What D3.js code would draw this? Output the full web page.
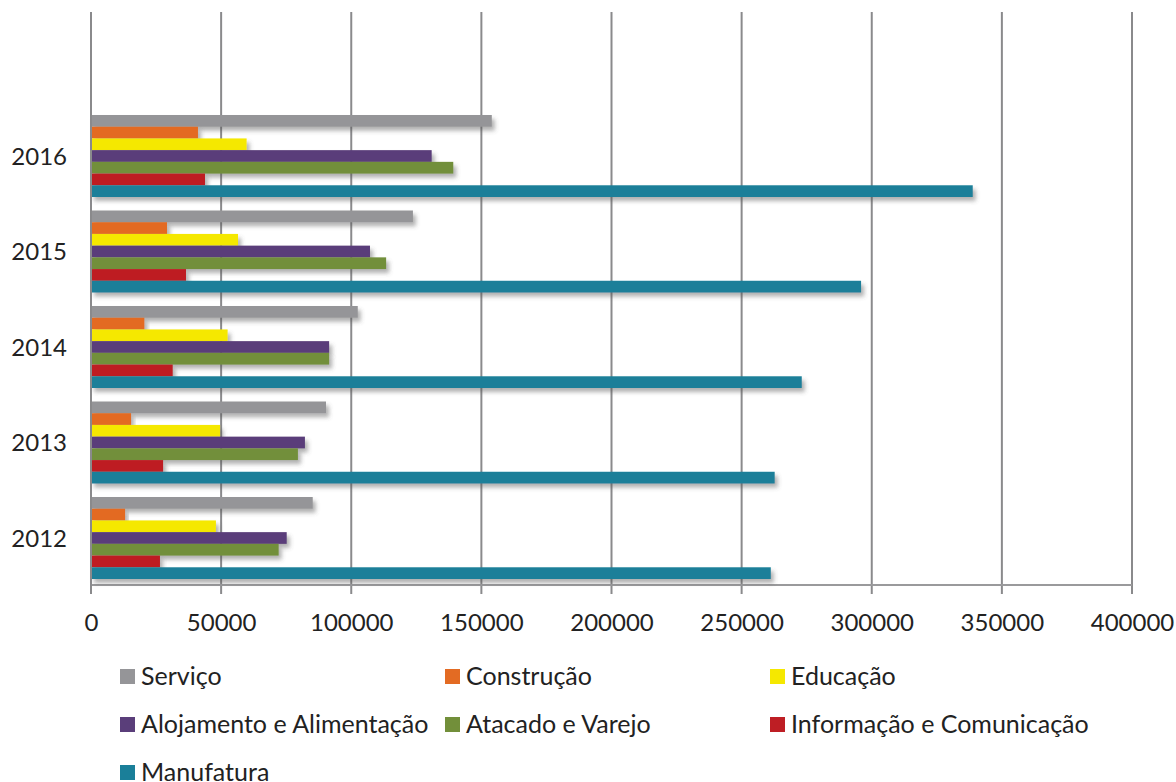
<!DOCTYPE html>
<html>
<head>
<meta charset="utf-8">
<script src="https://cdn.jsdelivr.net/npm/d3@7"></script>
<style>
  html, body { margin: 0; padding: 0; background: #fff; }
  svg { display: block; font-family: Lato, "Open Sans", sans-serif; }
</style>
</head>
<body>
<svg id="chart" width="1176" height="782"></svg>
<script>
// Years on the category axis (top to bottom)
const years = ["2016", "2015", "2014", "2013", "2012"];

// Sectors, drawn top to bottom inside each year group
const sectors = [
  "Serviço",
  "Construção",
  "Educação",
  "Alojamento e Alimentação",
  "Atacado e Varejo",
  "Informação e Comunicação",
  "Manufatura"
];

const colors = ["#959598", "#e36b23", "#f5e800", "#5a3e7a", "#728f3a", "#be1e24", "#1a7f99"];

// Values per sector, in the same order as `years`
const servico     = [154000, 123700, 102500, 90300, 85200];
const construcao  = [41100, 29200, 20500, 15400, 13100];
const educacao    = [59800, 56500, 52500, 49600, 48000];
const alojamento  = [130900, 107200, 91500, 82200, 75200];
const atacado     = [139200, 113400, 91500, 79500, 72100];
const informacao  = [43800, 36500, 31400, 27700, 26500];
const manufatura  = [338800, 295900, 273100, 262700, 261200];

const xTicks = [0, 50000, 100000, 150000, 200000, 250000, 300000, 350000, 400000];

const seriesValues = [servico, construcao, educacao, alojamento, atacado, informacao, manufatura];

const svg = d3.select("#chart");
const FONT = "Lato, 'Open Sans', sans-serif";
const FS = 24;

const left = 91, right = 1132, axisY = 585, gridTop = 12;

const x = d3.scaleLinear().domain([0, 400000]).range([left, right]);
const y = d3.scaleBand().domain(years).range([108.25, 585.75]).paddingInner(0.1414).paddingOuter(0.0707);
const ySub = d3.scaleBand().domain(sectors).range([0, y.bandwidth()]);

// Drop shadow for the bars
const defs = svg.append("defs");
const f = defs.append("filter").attr("id", "shadow")
  .attr("x", "-5%").attr("y", "-50%").attr("width", "115%").attr("height", "250%");
f.append("feDropShadow").attr("dx", 3).attr("dy", 4).attr("stdDeviation", 2)
  .attr("flood-color", "#555").attr("flood-opacity", 0.45);

// Vertical gridlines with tick extensions below the axis
svg.append("g").selectAll("line").data(xTicks).join("line")
  .attr("x1", d => x(d)).attr("x2", d => x(d))
  .attr("y1", gridTop).attr("y2", axisY + 9)
  .attr("stroke", "#8a8a8c").attr("stroke-width", 2);

// Horizontal baseline
svg.append("line")
  .attr("x1", left).attr("x2", right).attr("y1", axisY).attr("y2", axisY)
  .attr("stroke", "#9a9a9c").attr("stroke-width", 2);

// Bars
const groups = svg.append("g").selectAll("g").data(years).join("g")
  .attr("transform", d => `translate(0,${y(d)})`);

groups.each(function(year, yi) {
  d3.select(this).selectAll("rect")
    .data(sectors.map((s, si) => ({ s, si, v: seriesValues[si][yi] })))
    .join("rect")
    .attr("x", x(0))
    .attr("y", d => ySub(d.s))
    .attr("width", d => x(d.v) - x(0))
    .attr("height", ySub.bandwidth())
    .attr("fill", d => colors[d.si])
    .attr("filter", "url(#shadow)");
});

// Left axis line
svg.append("line")
  .attr("x1", left).attr("x2", left).attr("y1", gridTop).attr("y2", axisY + 9)
  .attr("stroke", "#8a8a8c").attr("stroke-width", 2);

// X tick labels
const xAxis = d3.axisBottom(x).tickValues(xTicks).tickFormat(d3.format("d")).tickSize(0).tickPadding(0);
const xg = svg.append("g").attr("transform", `translate(0,${axisY})`).call(xAxis);
xg.select(".domain").remove();
xg.selectAll("text")
  .attr("y", 45.5).attr("dy", null)
  .attr("font-size", FS).attr("fill", "#222")
  .attr("font-family", FONT);

// Y category labels
const yAxis = d3.axisLeft(y).tickSize(0).tickPadding(0);
const yg = svg.append("g").attr("transform", `translate(${left},0)`).call(yAxis);
yg.select(".domain").remove();
yg.selectAll("text")
  .attr("x", -24).attr("dy", "0.36em")
  .attr("font-size", FS).attr("fill", "#222")
  .attr("font-family", FONT);

// Legend: three columns
const colX = [120, 445, 770];
const rowY = [676, 724, 772];
const legend = svg.append("g").selectAll("g").data(sectors).join("g")
  .attr("transform", (d, i) => `translate(${colX[i % 3]},${rowY[Math.floor(i / 3)]})`);
legend.append("rect")
  .attr("x", 0).attr("y", -7).attr("width", 15).attr("height", 15)
  .attr("fill", (d, i) => colors[i]);
legend.append("text")
  .attr("x", 21).attr("y", 0).attr("dy", "0.36em")
  .attr("font-size", 25).attr("fill", "#222")
  .attr("font-family", FONT)
  .text(d => d);
</script>
</body>
</html>
